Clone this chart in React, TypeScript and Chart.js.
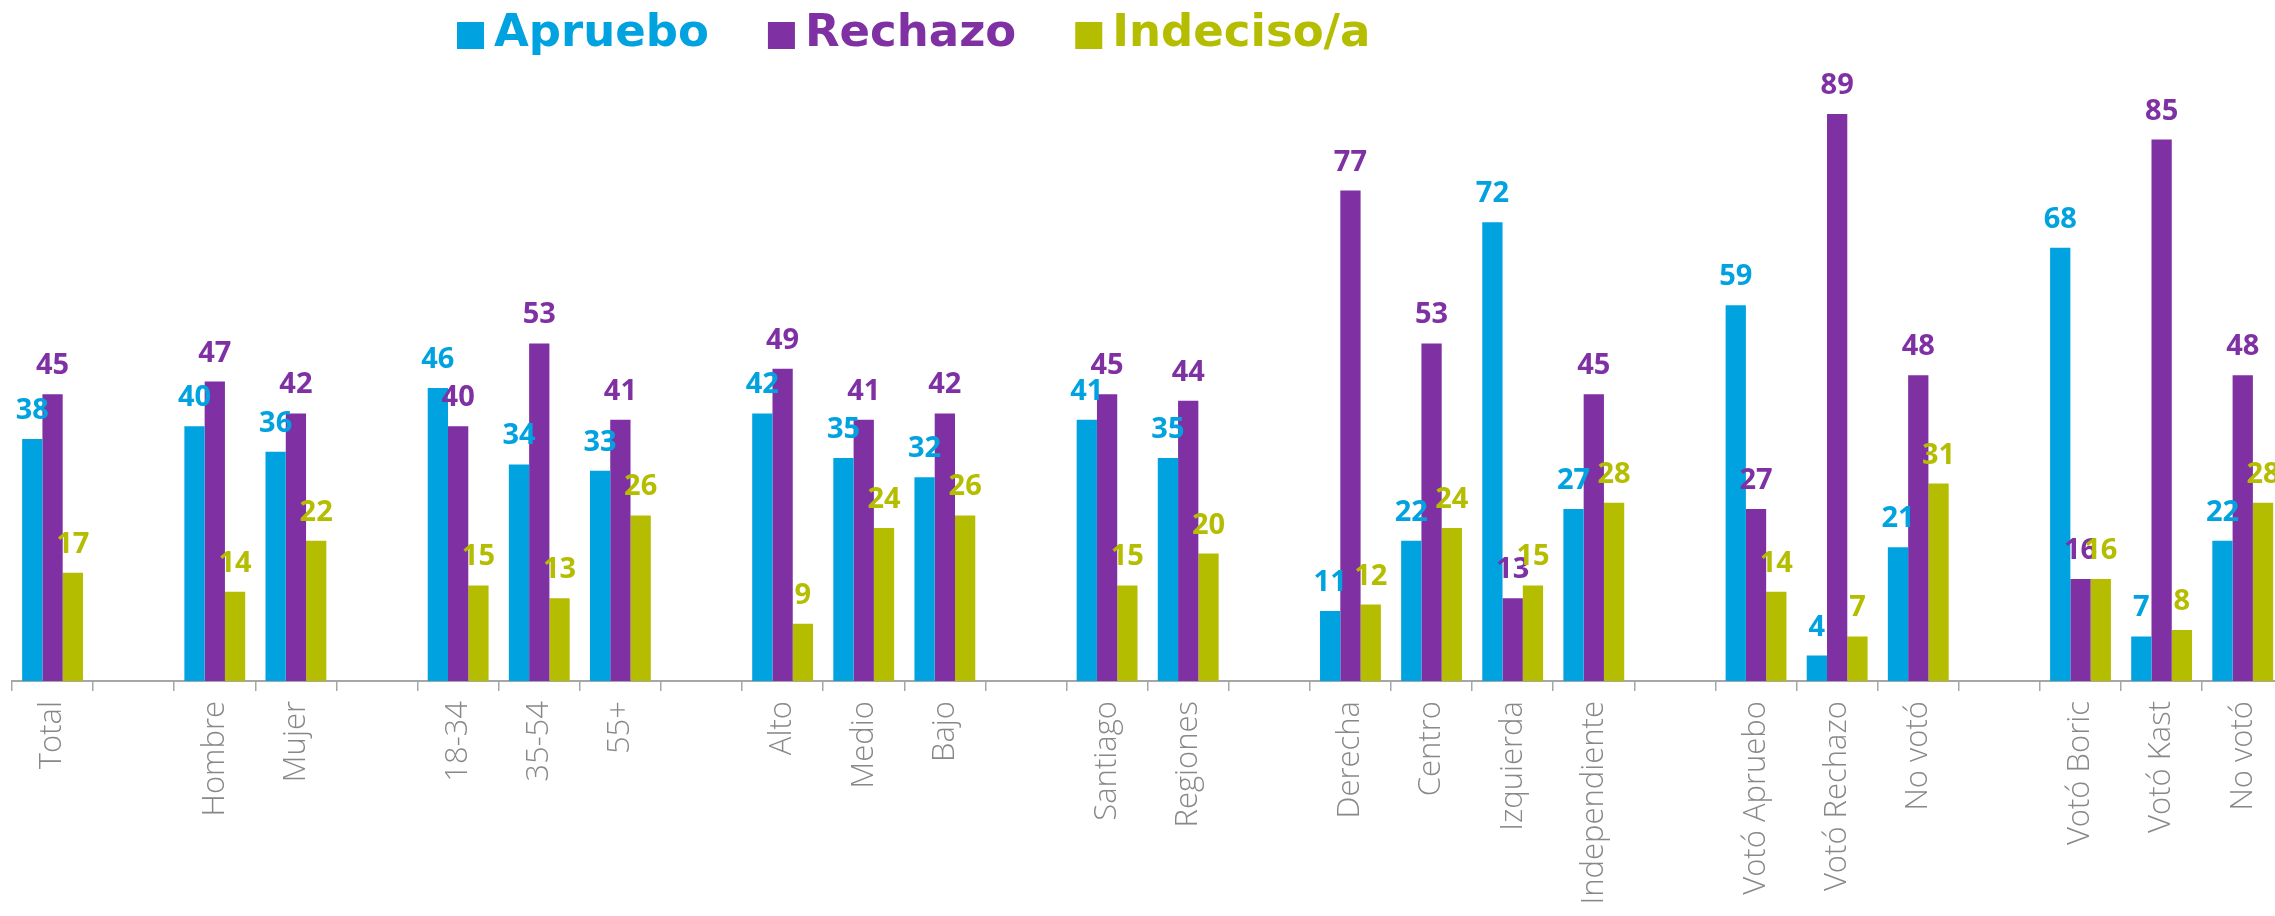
import React, { useEffect, useRef } from "react";
import { Chart, registerables } from "chart.js";

Chart.register(...registerables);

const categories = [
  "Total", "", "Hombre", "Mujer", "", "18-34", "35-54", "55+", "",
  "Alto", "Medio", "Bajo", "", "Santiago", "Regiones", "",
  "Derecha", "Centro", "Izquierda", "Independiente", "",
  "Votó Apruebo", "Votó Rechazo", "No votó", "",
  "Votó Boric", "Votó Kast", "No votó",
];

const apruebo = [38, null, 40, 36, null, 46, 34, 33, null, 42, 35, 32, null, 41, 35, null, 11, 22, 72, 27, null, 59, 4, 21, null, 68, 7, 22];
const rechazo = [45, null, 47, 42, null, 40, 53, 41, null, 49, 41, 42, null, 45, 44, null, 77, 53, 13, 45, null, 27, 89, 48, null, 16, 85, 48];
const indeciso = [17, null, 14, 22, null, 15, 13, 26, null, 9, 24, 26, null, 15, 20, null, 12, 24, 15, 28, null, 14, 7, 31, null, 16, 8, 28];

const seriesNames = ["Apruebo", "Rechazo", "Indeciso/a"];
const seriesColors = ["#00A3E0", "#7F31A3", "#B5BD00"];

const valueLabels = {
  id: "valueLabels",
  afterDatasetsDraw(chart: any) {
    const ctx = chart.ctx;
    ctx.save();
    ctx.font = "bold 29px 'Open Sans'";
    ctx.textAlign = "center";
    ctx.textBaseline = "alphabetic";
    chart.data.datasets.forEach((ds: any, i: number) => {
      const meta = chart.getDatasetMeta(i);
      ctx.fillStyle = ds.backgroundColor;
      meta.data.forEach((el: any, j: number) => {
        const v = ds.data[j];
        if (v === null || v === undefined) return;
        ctx.fillText(String(v), el.x, el.y - 20);
      });
    });
    ctx.restore();
  },
};

const customLegend = {
  id: "customLegend",
  afterDraw(chart: any) {
    const ctx = chart.ctx;
    ctx.save();
    ctx.font = "bold 45px 'DejaVu Sans'";
    ctx.textBaseline = "alphabetic";
    ctx.textAlign = "left";
    let x = 457;
    chart.data.datasets.forEach((ds: any) => {
      ctx.fillStyle = ds.backgroundColor;
      ctx.fillRect(x, 22, 27, 27);
      x += 27 + 10;
      ctx.fillText(ds.label, x, 46);
      x += ctx.measureText(ds.label).width + 59;
    });
    ctx.restore();
  },
};

export default function App() {
  const canvasRef = useRef<HTMLCanvasElement>(null);

  useEffect(() => {
    const canvas = canvasRef.current!;
    const datasets = [apruebo, rechazo, indeciso].map((d, i) => ({
      label: seriesNames[i],
      data: d,
      backgroundColor: seriesColors[i],
      borderWidth: 0,
      categoryPercentage: 0.75,
      barPercentage: 1.0,
    }));
    const chart = new Chart(canvas, {
      type: "bar",
      data: { labels: categories, datasets },
      options: {
        responsive: false,
        animation: false,
        layout: { padding: { left: 12, right: 3, top: 44, bottom: 0 } },
        plugins: {
          legend: { display: false },
          tooltip: { enabled: false },
        },
        scales: {
          x: {
            offset: true,
            grid: {
              display: true,
              offset: true,
              drawOnChartArea: false,
              drawTicks: true,
              tickLength: 10,
              color: "#a6a6a6",
              lineWidth: 1.5,
            },
            border: { display: true, color: "#a6a6a6", width: 2 },
            ticks: {
              autoSkip: false,
              minRotation: 90,
              maxRotation: 90,
              padding: 10,
              color: "#888888",
              font: { family: "'Open Sans'", size: 31, weight: 300 as any },
            },
            afterFit: (scale: any) => {
              scale.height = 235;
            },
          },
          y: {
            display: false,
            min: 0,
            max: 100,
          },
        },
      },
      plugins: [valueLabels, customLegend],
    });
    return () => chart.destroy();
  }, []);

  return (
    <div style={{ position: "fixed", left: 0, top: 0, width: 2275, height: 916, overflow: "hidden", background: "#fff" }}>
      <canvas ref={canvasRef} width={2290} height={916} style={{ display: "block" }} />
    </div>
  );
}
